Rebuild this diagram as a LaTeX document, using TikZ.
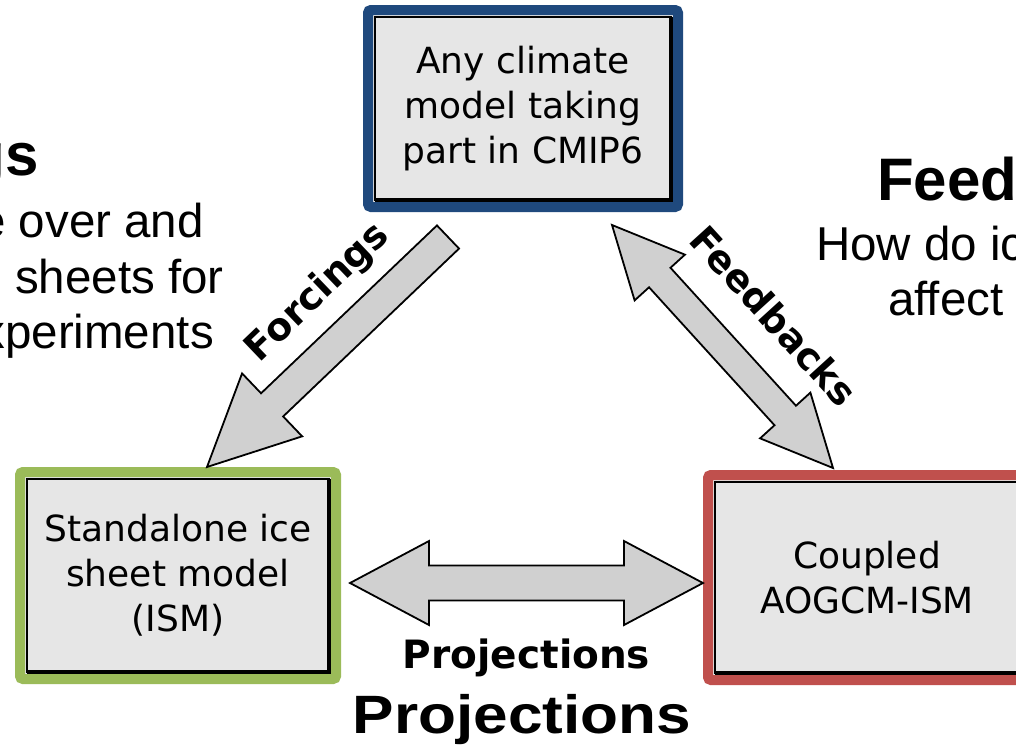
\documentclass[tikz,border=0pt]{standalone}
\usepackage{fontspec}
\setmainfont{DejaVu Sans}
\newfontfamily\headfont{Liberation Sans}
\usetikzlibrary{calc,positioning,shadows}
\definecolor{cmipblue}{HTML}{1F497D}
\definecolor{ismgreen}{HTML}{9BBB59}
\definecolor{coupledred}{HTML}{C0504D}
\definecolor{boxgray}{HTML}{E6E6E6}
\definecolor{arrowgray}{HTML}{D0D0D0}
\tikzset{model/.style={rectangle, rounded corners=3pt, line width=10pt, outer sep=0pt, inner sep=0pt, fill=boxgray, align=center, font=\fontsize{36}{45}\selectfont, drop shadow={opacity=.3, shadow xshift=2pt, shadow yshift=-3pt}, path picture={\draw[draw=black, sharp corners, line width=2pt] ([shift={(7pt,-7pt)}]path picture bounding box.north west) rectangle ([shift={(-7pt,7pt)}]path picture bounding box.south east); \draw[draw=black, sharp corners, line width=4pt] ([shift={(-7pt,-7pt)}]path picture bounding box.north east) -- ([shift={(-7pt,7pt)}]path picture bounding box.south east) -- ([shift={(7pt,7pt)}]path picture bounding box.south west);}}, blockarrow/.style={draw=black, fill=arrowgray, line width=1.8pt, line join=miter}, arrowlab/.style={inner sep=0pt, font=\bfseries\fontsize{38}{41}\selectfont}, head/.style={inner sep=0pt, font=\headfont\bfseries\fontsize{60}{66}\selectfont}, lead/.style={inner sep=0pt, font=\headfont\fontsize{47.5}{55}\selectfont}}
% tail, tip, shaft half width, head half width, head length
\newcommand{\fatarrow}[5]{\coordinate (#2 base) at ($(#2)!#5!(#1)$);
\draw[blockarrow] ($(#1)!#3!90:(#2)$) -- ($(#2 base)!#3!90:(#2)$) -- ($(#2 base)!#4!90:(#2)$) -- (#2) -- ($(#2 base)!#4!-90:(#2)$) -- ($(#2 base)!#3!-90:(#2)$) -- ($(#1)!#3!-90:(#2)$) -- cycle;}
\newcommand{\fatdoublearrow}[5]{\coordinate (#1 base) at ($(#1)!#5!(#2)$); \coordinate (#2 base) at ($(#2)!#5!(#1)$);
\draw[blockarrow] (#1) -- ($(#1 base)!#4!90:(#2)$) -- ($(#1 base)!#3!90:(#2)$) -- ($(#2 base)!#3!90:(#2)$) -- ($(#2 base)!#4!90:(#2)$) -- (#2) -- ($(#2 base)!#4!-90:(#2)$) -- ($(#2 base)!#3!-90:(#2)$) -- ($(#1 base)!#3!-90:(#2)$) -- ($(#1 base)!#4!-90:(#2)$) -- cycle;}
\begin{document}
\begin{tikzpicture}[x=1pt,y=-1pt]
\useasboundingbox (0,0) rectangle (1016,750);
% models
\node[model, draw=cmipblue, minimum width=310pt, minimum height=197pt] (cmip) at (523,108.5) {Any climate\\model taking\\part in CMIP6};
\node[model, draw=ismgreen, minimum width=316pt, minimum height=207pt] (ism) at (178,575.5) {Standalone ice\\sheet model\\(ISM)};
\node[model, draw=coupledred, minimum width=318pt, minimum height=205pt] (aogcm) at (867,577.5) {Coupled\\AOGCM-ISM};
% arrows
\coordinate (fcA) at ($(cmip.south)+(-75,30)$); \coordinate (fcB) at ($(ism.north)+(29,-5)$);
\coordinate (fbA) at ($(cmip.south east)+(-66,18)$); \coordinate (fbB) at ($(aogcm.north)+(-34,-7)$);
\coordinate (pjA) at ($(ism.east)+(14,7.5)$); \coordinate (pjB) at ($(pjA -| aogcm.west)+(-5,0)$);
\fatarrow{fcA}{fcB}{16pt}{43.5pt}{90pt}
\fatdoublearrow{fbA}{fbB}{14.5pt}{34pt}{71pt}
\fatdoublearrow{pjA}{pjB}{17.5pt}{42pt}{79pt}
\node[arrowlab, rotate=43.7] (fclab) at (318,293) {Forcings};
\node[arrowlab, rotate=-47.7] (fblab) at (774,316) {Feedbacks};
\node[arrowlab, anchor=base, font=\bfseries\fontsize{39}{42}\selectfont] (pjlab) at (526.5,668) {Projections};
% headings
\node[head, anchor=base east] (fchead) at (39,175) {gs};
\node[lead, anchor=base east] (fcl1) at (204,237) {e over and};
\node[lead, anchor=base east] (fcl2) at (224,293) {sheets for};
\node[lead, anchor=base east] (fcl3) at (214,348) {xperiments};
\node[head, anchor=base west] (fbhead) at (877,200) {Feed};
\node[lead, anchor=base west] (fbl1) at (816,260) {How do ic};
\node[lead, anchor=base west] (fbl2) at (888,315) {affect};
\node[head, anchor=base, xscale=1.15, font=\headfont\bfseries\fontsize{54}{60}\selectfont] (pjhead) at (522,733) {Projections};
\end{tikzpicture}
\end{document}
